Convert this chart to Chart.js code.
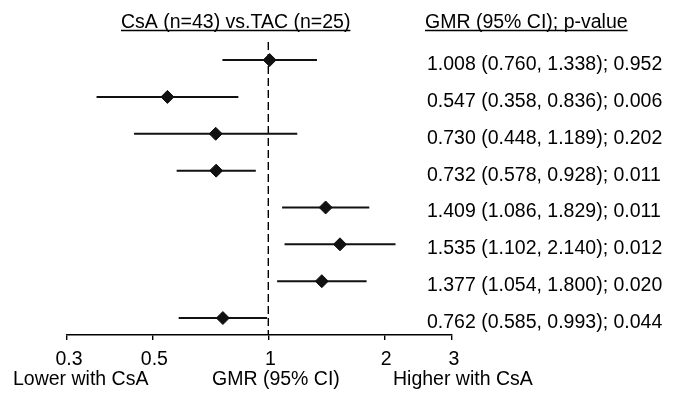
<!DOCTYPE html>
<html>
<head>
<meta charset="utf-8">
<script src="https://cdn.jsdelivr.net/npm/chart.js@4.4.1/dist/chart.umd.min.js"></script>
<style>
  html, body { margin: 0; padding: 0; background: #fff; }
  #wrap { width: 680px; height: 394px; }
</style>
</head>
<body>
<div id="wrap"><canvas id="forest"></canvas></div>
<script>
// GMR with 95% CI and p-value, one row per outcome (top to bottom)
const gmr     = [1.008, 0.547, 0.730, 0.732, 1.409, 1.535, 1.377, 0.762];
const ciLower = [0.760, 0.358, 0.448, 0.578, 1.086, 1.102, 1.054, 0.585];
const ciUpper = [1.338, 0.836, 1.189, 0.928, 1.829, 2.140, 1.800, 0.993];
const pValues = [0.952, 0.006, 0.202, 0.011, 0.011, 0.012, 0.020, 0.044];
const xTicks  = [0.3, 0.5, 1, 2, 3];

const FONT = '"Liberation Sans", Arial, Helvetica, sans-serif';
const FSIZE = 19.5;
const INK = '#000';

const rows = gmr.map((v, i) => ({ x: v, y: i + 1 }));

const fmt = v => v.toFixed(3);

function underlined(ctx, text, x, y) {
  ctx.fillText(text, x, y);
  const w = ctx.measureText(text).width;
  ctx.beginPath();
  ctx.lineWidth = 1.3;
  ctx.moveTo(x, y + 2.5);
  ctx.lineTo(x + w, y + 2.5);
  ctx.stroke();
}

const forestPlugin = {
  id: 'forest',
  beforeDatasetsDraw(chart) {
    const { ctx, chartArea, scales: { x, y } } = chart;
    ctx.save();
    // reference line at GMR = 1
    const x1 = x.getPixelForValue(1);
    ctx.strokeStyle = INK;
    ctx.lineWidth = 1.4;
    ctx.setLineDash([8, 4]);
    ctx.beginPath();
    ctx.moveTo(x1, chartArea.top);
    ctx.lineTo(x1, chartArea.bottom);
    ctx.stroke();
    ctx.setLineDash([]);
    // confidence intervals
    ctx.strokeStyle = '#111';
    ctx.lineWidth = 2;
    rows.forEach((r, i) => {
      const py = y.getPixelForValue(r.y);
      ctx.beginPath();
      ctx.moveTo(x.getPixelForValue(ciLower[i]), py);
      ctx.lineTo(x.getPixelForValue(ciUpper[i]), py);
      ctx.stroke();
    });
    ctx.restore();
  },
  afterDraw(chart) {
    const { ctx, scales: { y } } = chart;
    ctx.save();
    ctx.fillStyle = INK;
    ctx.strokeStyle = INK;
    ctx.font = FSIZE + 'px ' + FONT;
    ctx.textBaseline = 'alphabetic';
    ctx.textAlign = 'left';
    underlined(ctx, 'CsA (n=43) vs.TAC (n=25)', 121, 28);
    underlined(ctx, 'GMR (95% CI); p-value', 425, 28);
    rows.forEach((r, i) => {
      const py = y.getPixelForValue(r.y);
      const txt = fmt(gmr[i]) + ' (' + fmt(ciLower[i]) + ', ' + fmt(ciUpper[i]) + '); ' + fmt(pValues[i]);
      ctx.fillText(txt, 427, py + 10);
    });
    ctx.fillText('Lower with CsA', 13, 385);
    ctx.fillText('GMR (95% CI)', 212, 385);
    ctx.fillText('Higher with CsA', 393, 385);
    ctx.restore();
  }
};

new Chart(document.getElementById('forest'), {
  type: 'scatter',
  data: {
    datasets: [{
      data: rows,
      pointStyle: 'rectRot',
      pointRadius: 6.5,
      pointHoverRadius: 6.5,
      backgroundColor: '#111',
      borderColor: '#111',
      borderWidth: 1
    }]
  },
  options: {
    responsive: true,
    maintainAspectRatio: false,
    animation: false,
    events: [],
    layout: { padding: { left: 67, right: 228, top: 42, bottom: 0 } },
    plugins: { legend: { display: false }, tooltip: { enabled: false } },
    scales: {
      x: {
        type: 'logarithmic',
        min: 0.3,
        max: 3,
        afterBuildTicks: s => { s.ticks = xTicks.map(v => ({ value: v })); },
        afterFit: s => { s.height = 59; },
        grid: { drawOnChartArea: false, drawTicks: true, tickLength: 5, color: INK, lineWidth: 1.4 },
        border: { display: true, color: INK, width: 1.4 },
        ticks: {
          color: INK,
          padding: 8,
          labelOffset: 2,
          maxRotation: 0,
          autoSkip: false,
          font: { family: FONT, size: FSIZE },
          callback: v => String(v)
        }
      },
      y: {
        type: 'linear',
        reverse: true,
        min: 0.51,
        max: 8.46,
        display: false
      }
    }
  },
  plugins: [forestPlugin]
});
</script>
</body>
</html>
